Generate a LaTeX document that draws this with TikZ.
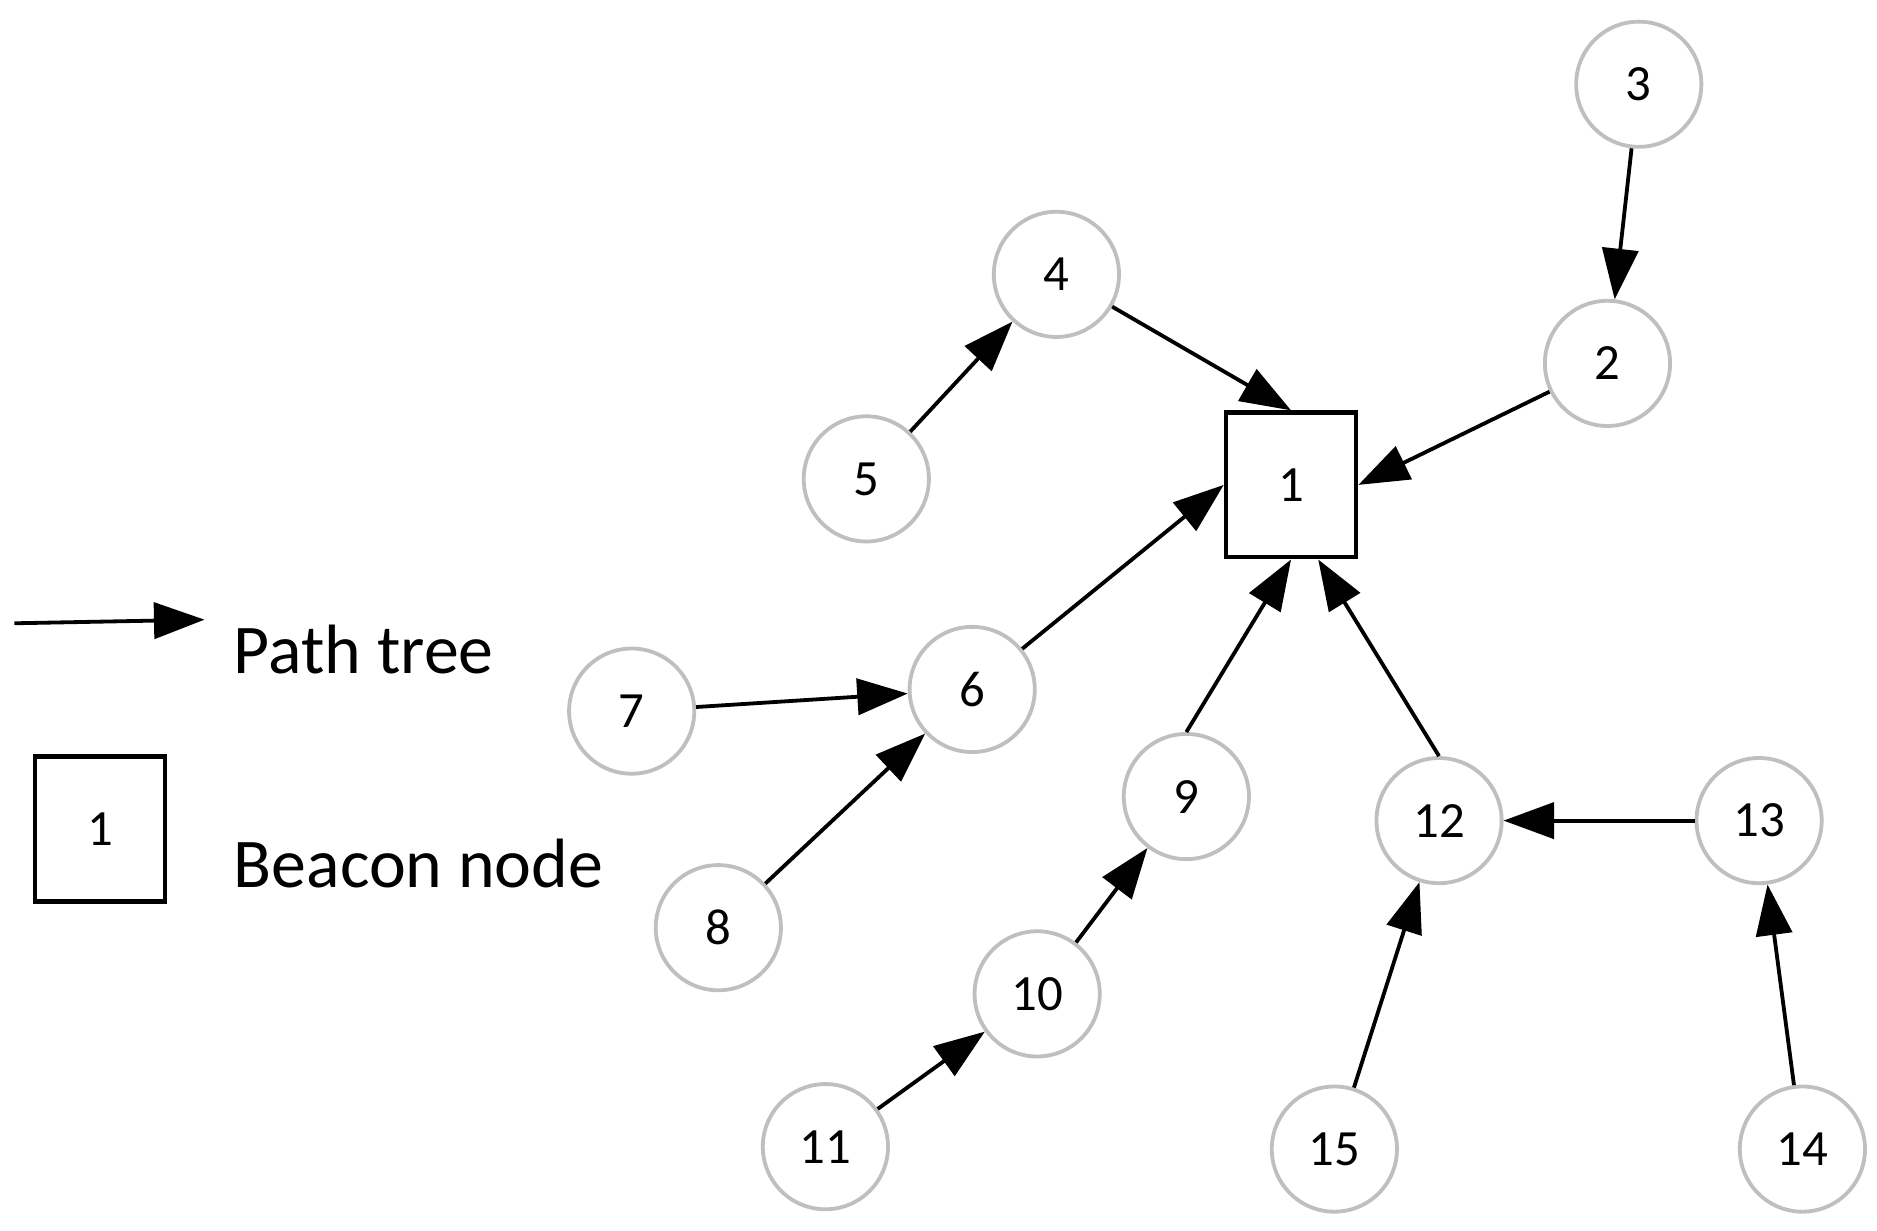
\documentclass[tikz,border=0pt]{standalone}
\usepackage{fontspec}
\setmainfont{Carlito}
\usetikzlibrary{arrows.meta}
\begin{document}
\begin{tikzpicture}[x=0.01cm,y=-0.01cm,
 n/.style={circle,draw=black!25,line width=0.9pt,minimum size=1.04cm,inner sep=0pt,font=\fontsize{12}{14}\selectfont},
 b/.style={draw,line width=1.1pt,minimum width=1.08cm,minimum height=1.2cm,inner sep=0pt,font=\fontsize{12}{14}\selectfont},
 e/.style={line width=0.9pt,-{Triangle[length=0.42cm,width=0.3cm]}},
 lt/.style={anchor=west,font=\fontsize{16.5}{18}\selectfont}]
\useasboundingbox (0,0) rectangle (1560,1023);
\node[b] (n1) at (1073,403) {1};
\node[n] (n2) at (1336,302) {2};
\node[n] (n3) at (1362,70) {3};
\node[n] (n4) at (878,228) {4};
\node[n] (n5) at (720,398) {5};
\node[n] (n6) at (808,573) {6};
\node[n] (n7) at (525,591) {7};
\node[n] (n8) at (597,771) {8};
\node[n] (n9) at (986,662) {9};
\node[n] (n10) at (862,826) {10};
\node[n] (n11) at (686,953) {11};
\node[n] (n12) at (1196,682) {12};
\node[n] (n13) at (1462,682) {13};
\node[n] (n14) at (1498,955) {14};
\node[n] (n15) at (1109,955) {15};
\draw[e] (n3) -- (n2);
\draw[e] (n2) -- (n1.east);
\draw[e] (n4) -- (n1.north);
\draw[e] (n5) -- (n4);
\draw[e] (n6) -- (n1.west);
\draw[e] (n7) -- (n6);
\draw[e] (n8) -- (n6);
\draw[e] (n9.north) -- (n1.south);
\draw[e] (n10) -- (n9);
\draw[e] (n11) -- (n10);
\draw[e] (n12.north) -- (n1.290);
\draw[e] (n13) -- (n12);
\draw[e] (n15) -- (n12);
\draw[e] (n14) -- (n13);
\coordinate (la) at (12,518);
\coordinate (lb) at (170,515);
\draw[e] (la) -- (lb);
\node[lt] (t1) at (182,540) {Path tree};
\node[b] (lb1) at (83,689) {1};
\node[lt] (t2) at (182,718) {Beacon node};
\end{tikzpicture}
\end{document}
